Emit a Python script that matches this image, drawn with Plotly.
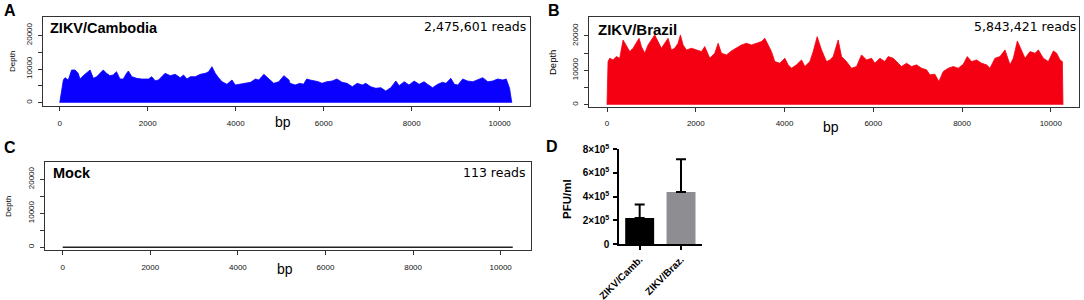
import plotly.graph_objects as go

W, H = 1084, 300

# ---------------- data ----------------
camb_bp = [0, 82, 120, 195, 270, 350, 420, 460, 535, 610, 690, 765, 840, 915, 990, 1065, 1140, 1215,
           1290, 1370, 1445, 1520, 1560, 1640, 1750, 1865, 2020, 2090, 2170, 2245, 2320, 2395, 2510,
           2625, 2740, 2815, 2890, 2970, 3080, 3195, 3310, 3385, 3460, 3535, 3610, 3690, 3800, 3915,
           3990, 4100, 4220, 4335, 4450, 4525, 4640, 4750, 4865, 4980, 5095, 5210, 5235, 5350, 5460,
           5540, 5615, 5690, 5805, 5880, 5960, 6070, 6190, 6300, 6420, 6530, 6650, 6760, 6880, 6955,
           7070, 7185, 7300, 7410, 7525, 7640, 7715, 7830, 7940, 8055, 8170, 8280, 8360, 8475, 8590,
           8700, 8780, 8890, 8970, 9050, 9160, 9270, 9390, 9500, 9615, 9730, 9840, 9955, 10070, 10150,
           10225, 10275]
camb_depth = [0, 6740, 7420, 6740, 9700, 9700, 8720, 7030, 8030, 8720, 9700, 7230, 7720, 8720, 9700,
              8720, 8030, 8230, 9200, 7030, 7030, 8720, 9400, 7720, 7230, 7030, 7030, 7720, 6530, 6740,
              7720, 8720, 8030, 8420, 7420, 8230, 7030, 7720, 7720, 8420, 8720, 9200, 10680, 8720, 7420,
              6230, 5460, 6740, 5250, 5460, 5750, 6040, 7030, 6740, 8420, 7230, 5750, 6230, 8030, 6740,
              5750, 5250, 5750, 5460, 7030, 6740, 6430, 6230, 5750, 6230, 6430, 7030, 6040, 5750, 4750,
              5750, 5250, 5750, 4750, 4270, 4460, 3470, 4460, 6430, 5050, 6230, 5250, 6430, 5460, 6230,
              5460, 4460, 5460, 6040, 5750, 7230, 5460, 5250, 7030, 6430, 6230, 6740, 7420, 6230, 6430,
              7030, 6740, 7030, 4270, 0]

braz_bp = [0, 10, 23, 61, 136, 211, 286, 362, 437, 512, 587, 662, 722, 775, 850, 925, 1000, 1075, 1150,
           1225, 1300, 1376, 1451, 1526, 1601, 1654, 1714, 1790, 1902, 2015, 2128, 2203, 2316, 2428,
           2504, 2579, 2692, 2804, 2917, 3030, 3142, 3255, 3368, 3481, 3556, 3631, 3706, 3781, 3894,
           4007, 4082, 4157, 4270, 4383, 4458, 4571, 4646, 4736, 4834, 4947, 5021, 5097, 5172, 5209,
           5285, 5397, 5510, 5623, 5735, 5848, 5961, 6036, 6149, 6261, 6336, 6449, 6562, 6637, 6750,
           6862, 6975, 7088, 7201, 7276, 7389, 7479, 7576, 7689, 7802, 7915, 8028, 8118, 8216, 8329,
           8441, 8554, 8629, 8742, 8855, 8968, 9081, 9156, 9247, 9344, 9419, 9532, 9645, 9720, 9833,
           9945, 10058, 10133, 10208, 10261, 10275]
braz_depth = [0, 8000, 12560, 13520, 13040, 14000, 13520, 18840, 16910, 15460, 16430, 17870, 19320,
              16910, 14980, 17390, 18840, 20290, 18360, 16430, 17870, 19320, 15940, 16430, 17870, 20290,
              17390, 15940, 16430, 15940, 15460, 16910, 13520, 14980, 17870, 14980, 14500, 15650, 16430,
              17390, 17870, 17390, 17870, 18360, 19320, 17390, 15460, 12560, 12080, 13520, 11600, 10630,
              11600, 13040, 11110, 12560, 15460, 19800, 15940, 12560, 13040, 14000, 17390, 18840, 14000,
              12560, 10630, 11110, 14500, 13040, 13520, 12080, 13520, 12560, 14000, 13520, 12080, 11110,
              12080, 11110, 11600, 10630, 10150, 8700, 8890, 6760, 9670, 10630, 11110, 10630, 11790,
              14000, 12560, 13040, 12080, 11600, 10630, 13520, 14000, 15940, 11600, 13520, 18550, 15940,
              13520, 15460, 14980, 15940, 13520, 12560, 15650, 14980, 13040, 12560, 0]

mock_bp = [0, 2000, 4000, 6000, 8000, 10275]
mock_depth = [1, 2, 1, 1, 2, 1]

bar_categories = ["ZIKV/Camb.", "ZIKV/Braz."]
pfu_mean = [2.2e5, 4.4e5]
pfu_err = [1.13e5, 2.75e5]

cov_xticks = [0, 2000, 4000, 6000, 8000, 10000]
cov_xticktext = ["0", "2000", "4000", "6000", "8000", "10000"]
cov_yticks = [0, 10000, 20000]
cov_yticktext = ["0", "10000", "20000"]
cov_yminor = [5000, 15000]
pfu_ticks = [0, 2e5, 4e5, 6e5, 8e5]
pfu_ticktext = ["<b>0</b>", "<b>2×10<sup>5</sup></b>", "<b>4×10<sup>5</sup></b>",
                "<b>6×10<sup>5</sup></b>", "<b>8×10<sup>5</sup></b>"]

# ---------------- helpers ----------------
def fx(p):
    return p / W


def fy(p):
    return 1 - p / H


FONT = "Liberation Sans, Arial, sans-serif"
LINEC = "#333333"

fig = go.Figure()

fig.add_trace(go.Scatter(x=camb_bp, y=camb_depth, mode="lines", fill="tozeroy",
                         line=dict(color="#0A00FF", width=0.8), fillcolor="#0A00FF",
                         xaxis="x", yaxis="y", showlegend=False, hoverinfo="skip"))
fig.add_trace(go.Scatter(x=braz_bp, y=braz_depth, mode="lines", fill="tozeroy",
                         line=dict(color="#F40012", width=0.8), fillcolor="#F40012",
                         xaxis="x2", yaxis="y2", showlegend=False, hoverinfo="skip"))
fig.add_trace(go.Scatter(x=mock_bp, y=mock_depth, mode="lines",
                         line=dict(color="#222222", width=1.5),
                         xaxis="x3", yaxis="y3", showlegend=False, hoverinfo="skip"))
fig.add_trace(go.Bar(x=bar_categories, y=pfu_mean, width=0.7,
                     marker=dict(color=["#000000", "#8E8E92"], line=dict(width=0)),
                     error_y=dict(type="data", symmetric=False, array=pfu_err,
                                  arrayminus=[0, 0], color="#000000", thickness=2, width=5),
                     xaxis="x4", yaxis="y4", showlegend=False, hoverinfo="skip"))


def cov_x(domain, rng, size=8):
    return dict(domain=domain, range=rng, tickvals=cov_xticks, ticktext=cov_xticktext,
                ticks="outside", ticklen=4, automargin=False,
                tickcolor=LINEC, tickwidth=1, showline=True, mirror=True, linecolor=LINEC,
                linewidth=1.4, showgrid=False, zeroline=False,
                tickfont=dict(family=FONT, size=size, color="#111"), ticklabelstandoff=5)


def cov_y(domain, rng, anchor, size=8):
    return dict(domain=domain, range=rng, tickvals=cov_yticks, ticktext=cov_yticktext,
                minor=dict(tickvals=cov_yminor, ticks="outside", ticklen=4, tickcolor=LINEC,
                           tickwidth=1, showgrid=False),
                tickangle=-90, ticks="outside", ticklen=4, tickcolor=LINEC, tickwidth=1,
                showline=True, mirror=True, linecolor=LINEC, linewidth=1.4, showgrid=False,
                zeroline=False, anchor=anchor, automargin=False,
                tickfont=dict(family=FONT, size=size, color="#111"), ticklabelstandoff=3)


layout = dict(
    width=W, height=H, margin=dict(l=0, r=0, t=0, b=0, autoexpand=False),
    paper_bgcolor="white", plot_bgcolor="white", bargap=0.3,
    xaxis=dict(cov_x([fx(43), fx(530)], [-380, 10689]), anchor="y"),
    yaxis=cov_y([fy(106), fy(17)], [-979, 25430], "x"),
    xaxis2=dict(cov_x([fx(589), fx(1079)], [-406, 10636]), anchor="y2"),
    yaxis2=cov_y([fy(106.5), fy(17)], [-493, 25507], "x2"),
    xaxis3=dict(cov_x([fx(45), fx(531)], [-404, 10692]), anchor="y3"),
    yaxis3=cov_y([fy(250), fy(162.3)], [-794, 25000], "x3"),
    xaxis4=dict(domain=[fx(619), fx(701.7)], type="category", range=[-0.5, 1.5], anchor="y4",
                tickvals=bar_categories,
                ticktext=["<b>" + c + "</b>" for c in bar_categories],
                tickangle=-45, ticks="outside", ticklen=4, tickwidth=1.5, tickcolor="#000",
                showline=True, linecolor="#000", linewidth=1.5, showgrid=False, zeroline=False,
                automargin=False, tickfont=dict(family=FONT, size=10, color="#000")),
    yaxis4=dict(domain=[fy(244), fy(149.3)], range=[0, 8e5], anchor="x4",
                tickvals=pfu_ticks, ticktext=pfu_ticktext, ticks="outside", ticklen=4,
                tickwidth=1.5, tickcolor="#000", showline=True, linecolor="#000", linewidth=1.5,
                showgrid=False, zeroline=False, automargin=False,
                tickfont=dict(family=FONT, size=10, color="#000"), ticklabelstandoff=2),
)

ann = []


def add_text(x, y, text, size, xanchor="center", yanchor="middle", bold=False, angle=0,
             family=FONT, color="#000"):
    ann.append(dict(x=fx(x), y=fy(y), xref="paper", yref="paper", showarrow=False,
                    text=("<b>%s</b>" % text) if bold else text, textangle=angle,
                    xanchor=xanchor, yanchor=yanchor,
                    font=dict(family=family, size=size, color=color)))


# panel letters
add_text(2, 11, "A", 16, xanchor="left", bold=True)
add_text(546, 11, "B", 16, xanchor="left", bold=True)
add_text(2, 147, "C", 16, xanchor="left", bold=True)
add_text(544, 146, "D", 16, xanchor="left", bold=True)

# titles inside panels
add_text(48, 28, "ZIKV/Cambodia", 14.5, xanchor="left", bold=True)
add_text(596, 30, "ZIKV/Brazil", 15, xanchor="left", bold=True)
add_text(51, 173, "Mock", 14.5, xanchor="left", bold=True)

# read counts
READF = "DejaVu Sans, Verdana, sans-serif"
add_text(528, 26, "2,475,601 reads", 12.5, xanchor="right", family=READF)
add_text(1078, 26, "5,843,421 reads", 12.5, xanchor="right", family=READF)
add_text(528, 172, "113 reads", 12.5, xanchor="right", family=READF)

# axis titles
add_text(283, 122, "bp", 14)
add_text(831, 127, "bp", 14)
add_text(285, 269, "bp", 14)
add_text(12, 62, "Depth", 8, angle=-90)
add_text(553, 63, "Depth", 9.5, angle=-90)
add_text(9, 207, "Depth", 8, angle=-90)
add_text(567, 199, "PFU/ml", 11.5, angle=-90, bold=True)

layout["annotations"] = ann
fig.update_layout(**layout)
fig.write_html("out.html", config={"displayModeBar": False},
               post_script="document.body.style.margin='0px';")
